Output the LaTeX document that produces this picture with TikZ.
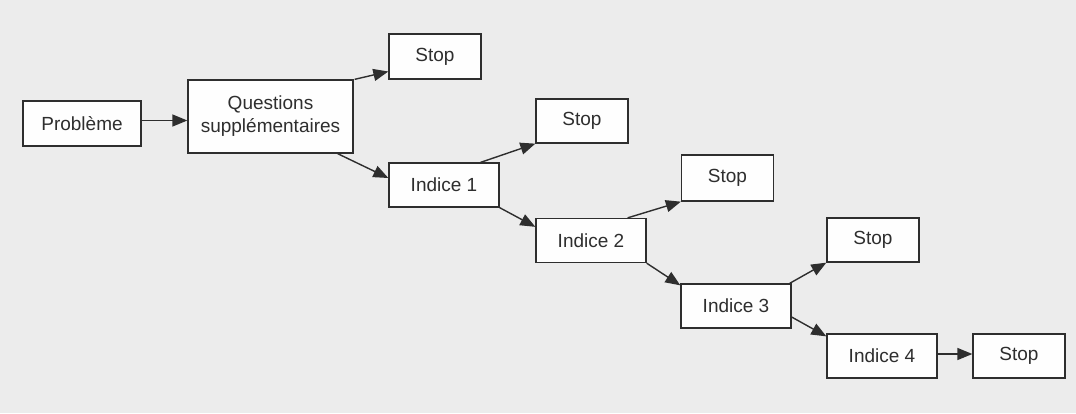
\documentclass[tikz,border=0pt]{standalone}
\usepackage{fontspec}
\setmainfont{Liberation Sans}
\usetikzlibrary{arrows.meta}
\definecolor{bg}{HTML}{ECECEC}
\definecolor{ink}{HTML}{2E2E2E}
\begin{document}
\begin{tikzpicture}[x=1pt,y=-1pt,
  box/.style={draw=ink, line width=1.3pt, fill=white!96!bg, inner sep=0pt,
    text=ink, font=\fontsize{19}{23}\selectfont, align=center},
  indbox/.style={box, minimum width=110pt, minimum height=44pt},
  stopbox/.style={box, minimum width=92pt, minimum height=44pt},
  conn/.style={draw=ink, line width=1.4pt, -{Triangle[length=15pt,width=12pt]}}]
\fill[bg] (0,0) rectangle (1076,413);
\useasboundingbox (0,0) rectangle (1076,413);
\node[box, minimum width=118pt, minimum height=45pt] (prob) at (82,123.5) {Problème};
\node[box, minimum width=165pt, minimum height=73pt] (qs) at (270.5,116.5) {Questions\\supplémentaires};
\node[stopbox, minimum height=45pt] (stop1) at (435,56.5) {Stop};
\node[indbox] (ind1) at (444,185) {Indice 1};
\node[stopbox] (stop2) at (582,121) {Stop};
\node[indbox] (ind2) at (591,240.5) {Indice 2};
\node[stopbox, minimum height=46pt] (stop3) at (727.5,178) {Stop};
\node[indbox] (ind3) at (736,306) {Indice 3};
\node[stopbox] (stop4) at (873,240) {Stop};
\node[indbox] (ind4) at (882,356) {Indice 4};
\node[stopbox] (stop5) at (1019,356) {Stop};

\draw[conn] ([yshift=3pt]prob.east) -- ([yshift=3pt]qs.west |- prob.east);
\draw[conn] ([xshift=1pt]qs.north east) -- ([yshift=-15pt]stop1.west);
\draw[conn] ([xshift=-16pt]qs.south east) -- ([yshift=7pt]ind1.west);
\draw[conn] ([xshift=-19pt]ind1.north east) -- (stop2.south west);
\draw[conn] (ind1.south east) -- ([yshift=-9pt]ind2.north west);
\draw[conn] ([xshift=-19pt]ind2.north east) -- (stop3.south west);
\draw[conn] (ind2.south east) -- ([yshift=-2pt]ind3.north west);
\draw[conn] ([xshift=-2pt]ind3.north east) -- (stop4.south west);
\draw[conn] ([yshift=-11pt]ind3.east) -- ([yshift=-3pt]ind4.north west);
\draw[conn] ([yshift=2pt]ind4.east) -- ([yshift=2pt]stop5.west);
\end{tikzpicture}
\end{document}
